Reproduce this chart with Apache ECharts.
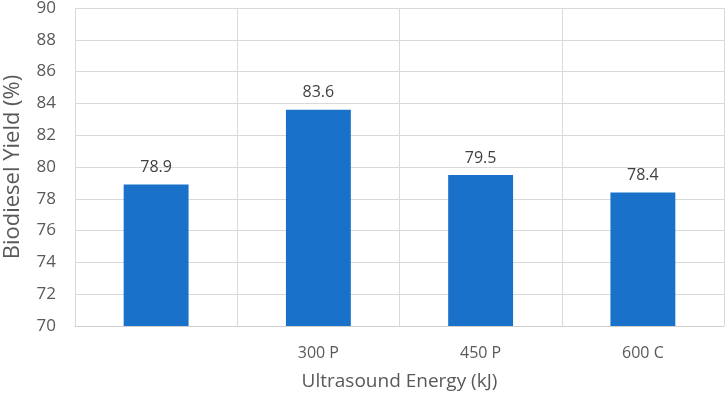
<!DOCTYPE html>
<html>
<head>
<meta charset="utf-8">
<script src="https://cdn.jsdelivr.net/npm/echarts@6/dist/echarts.min.js"></script>
<style>
  html, body { margin: 0; padding: 0; background: #fff; }
  #chart-container { width: 726px; height: 398px; }
</style>
</head>
<body>
<div id="chart-container"></div>
<script>
var categories = ['', '300 P', '450 P', '600 C'];
var yieldValues = [78.9, 83.6, 79.5, 78.4];
var yMin = 70;
var yMax = 90;
var yStep = 2;

var dom = document.getElementById('chart-container');
var yieldChart = echarts.init(dom, null, {
    renderer: 'canvas',
    useDirtyRect: false
});

var option;

option = {
    animation: false,
    textStyle: {
        fontFamily: 'Open Sans'
    },
    grid: {
        left: 75,
        right: 2,
        top: 8,
        bottom: 72,
        containLabel: false,
        outerBoundsMode: 'none'
    },
    xAxis: {
        type: 'category',
        data: categories,
        name: 'Ultrasound Energy (kJ)',
        nameLocation: 'middle',
        nameGap: 46,
        nameTextStyle: {
            color: '#595959',
            fontSize: 19
        },
        axisLine: {
            lineStyle: {
                color: '#d0d0d0',
                width: 1
            }
        },
        axisTick: {
            show: false
        },
        axisLabel: {
            color: '#595959',
            fontSize: 16,
            margin: 19
        },
        splitLine: {
            show: true,
            lineStyle: {
                color: '#d9d9d9'
            }
        }
    },
    yAxis: {
        type: 'value',
        min: yMin,
        max: yMax,
        interval: yStep,
        name: 'Biodiesel Yield (%)',
        nameLocation: 'middle',
        nameGap: 51,
        nameTextStyle: {
            color: '#595959',
            fontSize: 22
        },
        axisLine: {
            show: true,
            lineStyle: {
                color: '#d9d9d9'
            }
        },
        axisLabel: {
            color: '#595959',
            fontSize: 17,
            margin: 19
        },
        splitLine: {
            lineStyle: {
                color: '#d9d9d9'
            }
        }
    },
    series: [
        {
            type: 'bar',
            data: yieldValues,
            barWidth: '40%',
            itemStyle: {
                color: '#1971c9'
            },
            label: {
                show: true,
                position: 'top',
                distance: 9,
                color: '#404040',
                fontSize: 16,
                formatter: function (p) {
                    return p.value.toFixed(1);
                }
            }
        }
    ]
};

if (option && typeof option === 'object') {
    yieldChart.setOption(option);
}
window.addEventListener('resize', yieldChart.resize);
</script>
</body>
</html>
